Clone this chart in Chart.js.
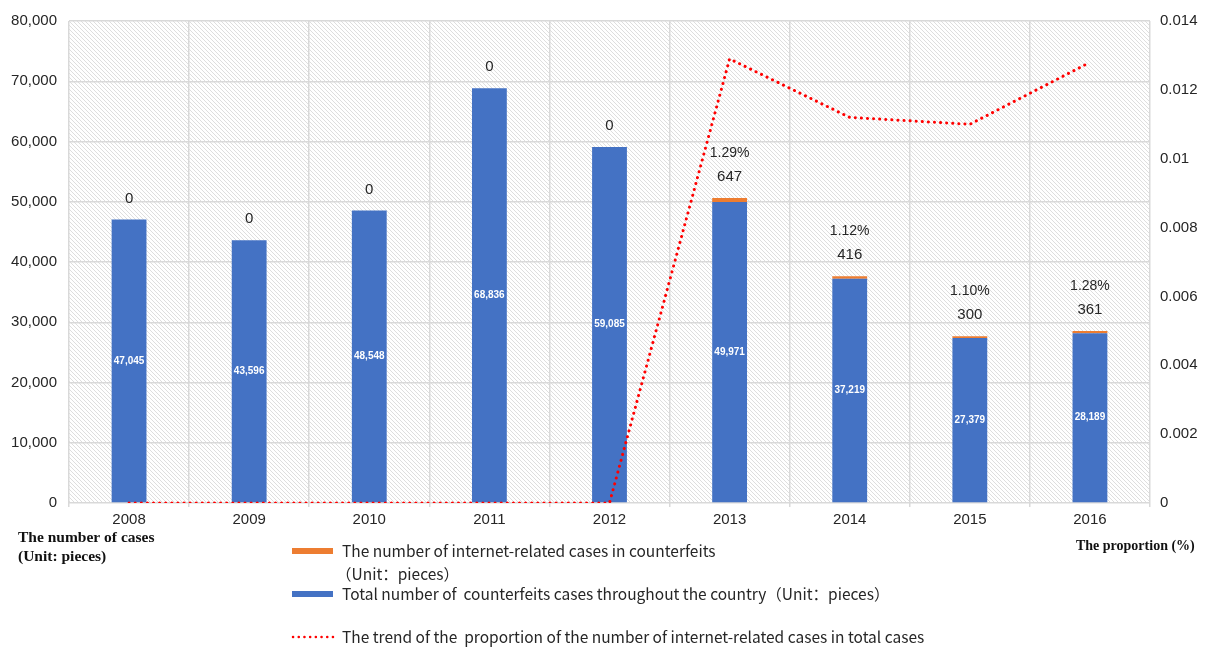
<!DOCTYPE html>
<html>
<head>
<meta charset="utf-8">
<script src="https://cdn.jsdelivr.net/npm/chart.js@4/dist/chart.umd.min.js"></script>
<style>
  body { margin: 0; background: #ffffff; }
  #wrap { width: 1210px; height: 650px; }
</style>
</head>
<body>
<div id="wrap"><canvas id="casesChart" width="1210" height="650"></canvas></div>
<script>
// Counterfeit cases per year, with the internet-related share
let years = ['2008', '2009', '2010', '2011', '2012', '2013', '2014', '2015', '2016'];
let totalCases = [47045, 43596, 48548, 68836, 59085, 49971, 37219, 27379, 28189];
let internetCases = [0, 0, 0, 0, 0, 647, 416, 300, 361];
let proportion = [0, 0, 0, 0, 0, 0.0129, 0.0112, 0.0110, 0.0128];

let leftTicks = { min: 0, max: 80000, step: 10000 };
let rightTicks = { min: 0, max: 0.014, step: 0.002 };

let legendText = [
  ['The number of internet-related cases in counterfeits', '（Unit：pieces）'],
  ['Total number of  counterfeits cases throughout the country（Unit：pieces）'],
  ['The trend of the  proportion of the number of internet-related cases in total cases']
];
let leftTitle = ['The number of cases', '(Unit: pieces)'];
let rightTitle = 'The proportion (%)';

const BLUE = '#4472C4';
const ORANGE = '#ED7D31';
const RED = '#FF0000';
const TEXT = '#262626';
const SANS = '"Liberation Sans", Arial, sans-serif';
const LEGEND_FONT = '15.5px "Noto Sans CJK SC", "Noto Sans", sans-serif';
const SERIF = '"Liberation Serif", "Times New Roman", serif';

// diagonal hatch behind the plot
function makeHatch() {
  let c = document.createElement('canvas');
  c.width = 4; c.height = 4;
  let g = c.getContext('2d');
  g.fillStyle = '#ffffff';
  g.fillRect(0, 0, 4, 4);
  g.strokeStyle = '#d6d6d6';
  g.lineWidth = 0.8;
  g.beginPath();
  g.moveTo(-1, -1); g.lineTo(5, 5);
  g.moveTo(-1, 3); g.lineTo(1, 5);
  g.moveTo(3, -1); g.lineTo(5, 1);
  g.stroke();
  return g.createPattern(c, 'repeat');
}

let hatchPlugin = {
  id: 'hatch',
  beforeDraw(chart) {
    let a = chart.chartArea;
    let ctx = chart.ctx;
    ctx.save();
    ctx.fillStyle = makeHatch();
    ctx.fillRect(a.left, a.top, a.right - a.left, a.bottom - a.top);
    ctx.restore();
  }
};

// value labels: totals inside the bars, counts and percentages above
let labelPlugin = {
  id: 'barLabels',
  afterDatasetsDraw(chart) {
    let ctx = chart.ctx;
    let blueMeta = chart.getDatasetMeta(1);
    let orangeMeta = chart.getDatasetMeta(2);
    ctx.save();
    ctx.textAlign = 'center';
    ctx.textBaseline = 'middle';
    blueMeta.data.forEach((bar, i) => {
      ctx.fillStyle = '#ffffff';
      ctx.font = 'bold 10px ' + SANS;
      ctx.fillText(totalCases[i].toLocaleString('en-US'), bar.x, (bar.y + bar.base) / 2);
    });
    orangeMeta.data.forEach((bar, i) => {
      ctx.fillStyle = TEXT;
      ctx.font = '15px ' + SANS;
      let y = bar.y - 21;
      ctx.fillText(internetCases[i].toLocaleString('en-US'), bar.x, y);
      if (proportion[i] > 0) {
        ctx.font = '14px ' + SANS;
        ctx.fillText((proportion[i] * 100).toFixed(2) + '%', bar.x, y - 24);
      }
    });
    ctx.restore();
  }
};

// legend block under the axis plus the two axis titles
let legendPlugin = {
  id: 'customLegend',
  afterDraw(chart) {
    let ctx = chart.ctx;
    ctx.save();
    ctx.textBaseline = 'middle';
    ctx.textAlign = 'left';

    let x0 = 292, x1 = 333, tx = 342;
    let rows = [551, 594, 637];

    ctx.fillStyle = ORANGE;
    ctx.fillRect(x0, rows[0] - 3, x1 - x0, 6);
    ctx.fillStyle = BLUE;
    ctx.fillRect(x0, rows[1] - 3, x1 - x0, 6);
    ctx.strokeStyle = RED;
    ctx.lineWidth = 2.5;
    ctx.lineCap = 'round';
    ctx.setLineDash([0.1, 5.6]);
    ctx.beginPath();
    ctx.moveTo(x0 + 1, rows[2]);
    ctx.lineTo(x1, rows[2]);
    ctx.stroke();
    ctx.setLineDash([]);

    ctx.fillStyle = TEXT;
    ctx.font = LEGEND_FONT;
    ctx.fillText(legendText[0][0], tx, rows[0]);
    ctx.fillText(legendText[0][1], tx - 6, rows[0] + 23);
    ctx.fillText(legendText[1][0], tx, rows[1]);
    ctx.fillText(legendText[2][0], tx, rows[2]);

    ctx.fillStyle = '#111111';
    ctx.font = 'bold 15.5px ' + SERIF;
    ctx.fillText(leftTitle[0], 18, 538);
    ctx.fillText(leftTitle[1], 18, 557);
    ctx.font = 'bold 14px ' + SERIF;
    ctx.fillText(rightTitle, 1076, 546);
    ctx.restore();
  }
};

let data = {
  labels: years,
  datasets: [{
    type: 'line',
    label: legendText[2][0],
    data: proportion,
    yAxisID: 'y1',
    borderColor: RED,
    borderWidth: 3,
    borderDash: [0.1, 6],
    borderCapStyle: 'round',
    pointRadius: 0,
    fill: false,
    tension: 0,
    order: 0
  }, {
    type: 'bar',
    label: legendText[1][0],
    data: totalCases,
    backgroundColor: BLUE,
    yAxisID: 'y',
    stack: 'cases',
    barPercentage: 0.29,
    categoryPercentage: 1,
    order: 1
  }, {
    type: 'bar',
    label: legendText[0][0],
    data: internetCases,
    backgroundColor: ORANGE,
    yAxisID: 'y',
    stack: 'cases',
    barPercentage: 0.29,
    categoryPercentage: 1,
    order: 1
  }]
};

let config = {
  data,
  options: {
    responsive: false,
    animation: false,
    layout: { padding: { top: 18, left: 0, right: 0, bottom: 0 } },
    plugins: {
      legend: { display: false },
      tooltip: { enabled: false }
    },
    scales: {
      x: {
        stacked: true,
        grid: { offset: true, color: '#d9d9d9', lineWidth: 1.5, tickLength: 4 },
        border: { display: false },
        ticks: { color: TEXT, font: { family: SANS, size: 15 }, padding: 4 },
        afterFit(scale) { scale.height = 147; }
      },
      y: {
        stacked: true,
        position: 'left',
        min: leftTicks.min,
        max: leftTicks.max,
        grid: { color: '#d9d9d9', lineWidth: 1.5, drawTicks: false },
        border: { display: false },
        ticks: {
          stepSize: leftTicks.step,
          color: TEXT,
          font: { family: SANS, size: 15 },
          padding: 12,
          callback: v => v.toLocaleString('en-US')
        },
        afterFit(scale) { scale.width = 69; }
      },
      y1: {
        position: 'right',
        min: rightTicks.min,
        max: rightTicks.max,
        grid: { display: false, drawTicks: false },
        border: { display: false },
        ticks: {
          stepSize: rightTicks.step,
          color: TEXT,
          font: { family: SANS, size: 15 },
          padding: 10,
          callback: v => String(+v.toFixed(3))
        },
        afterFit(scale) { scale.width = 60; }
      }
    }
  },
  plugins: [hatchPlugin, labelPlugin, legendPlugin]
};

let casesChart = new Chart(document.getElementById('casesChart'), config);
</script>
</body>
</html>
